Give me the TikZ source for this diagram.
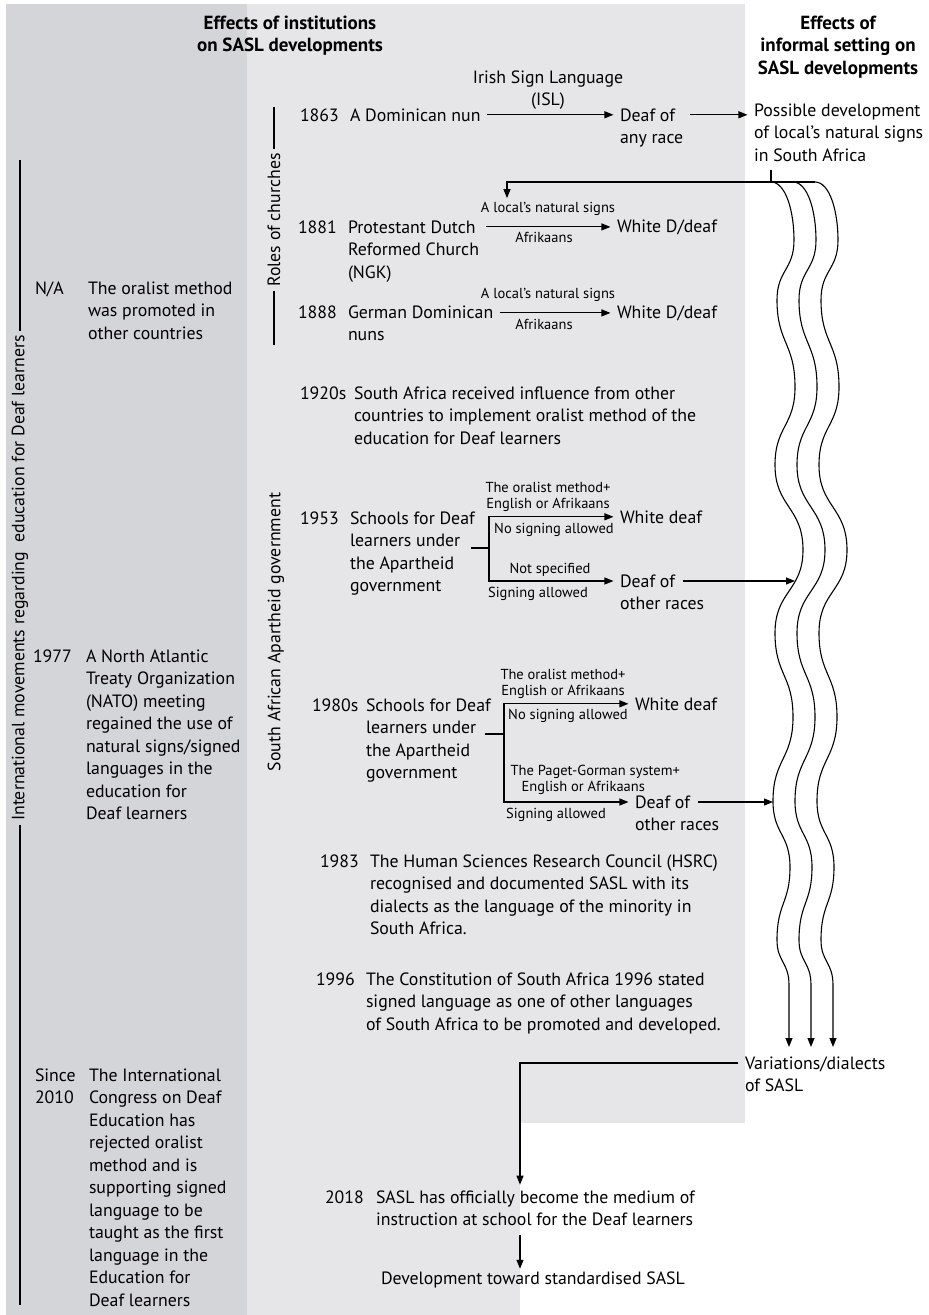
\documentclass[tikz,border=0pt]{standalone}
\usepackage{fontspec}
\setmainfont{PT Sans}
\usetikzlibrary{arrows.meta}

\definecolor{darkpanel}{RGB}{212,213,216}
\definecolor{lightpanel}{RGB}{230,230,232}
\newcommand{\bigtxt}{\fontsize{17.8}{22.5}\selectfont}
\newcommand{\smalltxt}{\fontsize{14.5}{16}\selectfont}
\newcommand{\headtxt}{\fontsize{19}{22.5}\selectfont\bfseries}
% lines stacked from the first baseline
\newcommand{\txtlines}[1]{\begin{tabular}[t]{@{}l@{}}#1\end{tabular}}
\newcommand{\ctrlines}[1]{\begin{tabular}[t]{@{}c@{}}#1\end{tabular}}

\begin{document}
\begin{tikzpicture}[x=1pt,y=-1pt,line width=1.1pt,
	txt/.style={anchor=text,font=\bigtxt,inner xsep=6pt,inner ysep=2pt},
	lbl/.style={anchor=base,font=\smalltxt,inner sep=3pt},
	head/.style={anchor=base,font=\headtxt},
	side/.style={rotate=90,font=\bigtxt,inner sep=4pt},
	arr/.style={-{Triangle[length=9pt,width=7pt]}}]
	% panels
	\useasboundingbox (0,0) rectangle (929,1315);
	\fill[darkpanel] (6,4) rectangle (247,1315);
	\fill[lightpanel] (247,4) rectangle (745,1123);
	\fill[lightpanel] (247,1123) rectangle (520,1315);

	% headings
	\node[head] (headinst) at (290,29) {\ctrlines{Effects of institutions\\on SASL developments}};
	\node[head] (headinf) at (838,29) {\ctrlines{Effects of\\informal setting on\\SASL developments}};

	% side labels
	\node[side] (intl) at (20,578) {International movements regarding\ \ education for Deaf learners};
	\draw (20,160) -- (intl.east);
	\draw (intl.west) -- (20,1305);
	\node[side] (roles) at (274,220) {Roles of churches};
	\draw (274,107) -- (roles.east);
	\draw (roles.west) -- (274,345);
	\node[side] (apart) at (276,632) {South African Apartheid government};

	% international movements
	\node[txt] (yna) at (35,294) {N/A};
	\node[txt] (oral) at (88,294) {\txtlines{The oralist method\\was promoted in\\other countries}};
	\node[txt] (y1977) at (33,662) {1977};
	\node[txt] (nato) at (86,662) {\txtlines{A North Atlantic\\Treaty Organization\\(NATO) meeting\\regained the use of\\natural signs/signed\\languages in the\\education for\\Deaf learners}};
	\node[txt] (y2010) at (35,1081) {\txtlines{Since\\2010}};
	\node[txt] (iced) at (89,1081) {\txtlines{The International\\Congress on Deaf\\Education has\\rejected oralist\\method and is\\supporting signed\\language to be\\taught as the first\\language in the\\Education for\\Deaf learners}};

	% churches
	\node[txt] (y1863) at (300,121) {1863};
	\node[txt] (nun) at (350,121) {A Dominican nun};
	\node[txt] (anyrace) at (620,121) {\txtlines{Deaf of\\any race}};
	\node[txt] (possible) at (754,116) {\txtlines{Possible development\\of local's natural signs\\in South Africa}};
	\node[font=\bigtxt,anchor=base] (isl) at (548,83) {\ctrlines{Irish Sign Language\\(ISL)}};
	\draw[arr] (nun.east) -- (nun.east -| anyrace.west);
	\draw[arr] (anyrace.east |- nun.east) -- (possible.west |- nun.east);

	\node[txt] (y1881) at (298,233) {1881};
	\node[txt] (ngk) at (348,233) {\txtlines{Protestant Dutch\\Reformed Church\\(NGK)}};
	\node[txt] (wd81) at (617,232) {White D/deaf};
	\node[lbl] (nat81) at (548,212) {A local's natural signs};
	\node[lbl] (afr81) at (544,242) {Afrikaans};
	\draw[arr] (ngk.east |- wd81.west) -- (wd81.west);

	\node[txt] (y1888) at (298,318) {1888};
	\node[txt] (gdn) at (348,318) {\txtlines{German Dominican\\nuns}};
	\node[txt] (wd88) at (617,318) {White D/deaf};
	\node[lbl] (nat88) at (548,298) {A local's natural signs};
	\node[lbl] (afr88) at (544,329) {Afrikaans};
	\draw[arr] (gdn.east |- wd88.west) -- (wd88.west);

	% apartheid government
	\node[txt] (y1920) at (300,399) {1920s};
	\node[txt] (infl) at (354,399) {\txtlines{South Africa received influence from other\\countries to implement oralist method of the\\education for Deaf learners}};

	\node[txt] (y1953) at (300,524) {1953};
	\node[txt] (sch53) at (350,524) {\txtlines{Schools for Deaf\\learners under\\the Apartheid\\government}};
	\node[txt] (wd53) at (620,523) {White deaf};
	\node[txt] (oth53) at (620,587) {\txtlines{Deaf of\\other races}};
	\node[lbl] (oral53) at (548,492) {\ctrlines{The oralist method+\\English or Afrikaans}};
	\node[lbl] (nosign53) at (554,533) {No signing allowed};
	\node[lbl] (nospec53) at (550,573) {Not specified};
	\node[lbl] (sign53) at (538,597) {Signing allowed};
	\coordinate (br53) at (489,548);
	\draw (br53) -- ++(-18,0);
	\draw[arr] (br53) |- (wd53.west);
	\draw[arr] (br53) |- ([yshift=6pt]oth53.base west);

	\node[txt] (y1980) at (312,711) {1980s};
	\node[txt] (sch80) at (366,711) {\txtlines{Schools for Deaf\\learners under\\the Apartheid\\government}};
	\node[txt] (wd80) at (635,710) {White deaf};
	\node[txt] (oth80) at (635,808) {\txtlines{Deaf of\\other races}};
	\node[lbl] (oral80) at (563,679) {\ctrlines{The oralist method+\\English or Afrikaans}};
	\node[lbl] (nosign80) at (568,719) {No signing allowed};
	\node[lbl,anchor=base west] (paget80) at (507,775) {\txtlines{The Paget-Gorman system+\\\hspace*{11pt}English or Afrikaans}};
	\node[lbl] (sign80) at (556,818) {Signing allowed};
	\coordinate (br80) at (504,734);
	\draw (br80) -- ++(-19,0);
	\draw[arr] (br80) |- (wd80.west);
	\draw[arr] (br80) |- ([yshift=6pt]oth80.base west);

	\node[txt] (y1983) at (320,867) {1983};
	\node[txt] (hsrc) at (370,867) {\txtlines{The Human Sciences Research Council (HSRC)\\recognised and documented SASL with its\\dialects as the language of the minority in\\South Africa.}};
	\node[txt] (y1996) at (316,985) {1996};
	\node[txt] (const) at (366,985) {\txtlines{The Constitution of South Africa 1996 stated\\signed language as one of other languages\\of South Africa to be promoted and developed.}};

	% informal setting
	\coordinate (split) at (771,182);
	\coordinate (wend) at (815,182);
	\coordinate (back) at (507,182);
	\draw (possible.south -| split) -- (split);
	\draw[arr] (wend) -- (back) -- (back |- nat81.north);
	\foreach \dx in {0,22,44}
		\draw[arr,xshift=\dx pt] (771,182) .. controls (786,182) and (794,212) .. (794,240)
			.. controls (794,270) and (777,270) .. (777,300)
			.. controls (777,343) and (795,343) .. (795,387)
			.. controls (795,426) and (775,426) .. (775,465)
			.. controls (775,507) and (803,507) .. (803,550)
			.. controls (803,591) and (775,591) .. (775,633)
			.. controls (775,675) and (793,675) .. (793,717)
			.. controls (793,759) and (773,759) .. (773,801)
			.. controls (773,834) and (790,834) .. (790,867)
			.. controls (790,903) and (777,903) .. (777,940)
			.. controls (777,962) and (789,962) .. (789,985)
			-- (789,1047);
	\coordinate (o53) at (683,581);
	\coordinate (w53) at (795,581);
	\draw[arr] (o53) -- (w53);
	\coordinate (o80) at (698,802);
	\coordinate (w80) at (773,802);
	\draw[arr] (o80) -- (w80);

	\node[txt] (var) at (745,1069) {\txtlines{Variations/dialects\\of SASL}};
	\node[txt] (y2018) at (325,1203) {2018};
	\node[txt] (medium) at (376,1203) {\txtlines{SASL has officially become the medium of\\instruction at school for the Deaf learners}};
	\node[txt] (std) at (381,1284) {Development toward standardised SASL};
	\coordinate (turn) at (520,1063);
	\draw[arr] ([yshift=6pt]var.base west) -- (turn) -- (turn |- medium.north);
	\draw[arr] (turn |- medium.south) -- (turn |- std.north);
\end{tikzpicture}
\end{document}
